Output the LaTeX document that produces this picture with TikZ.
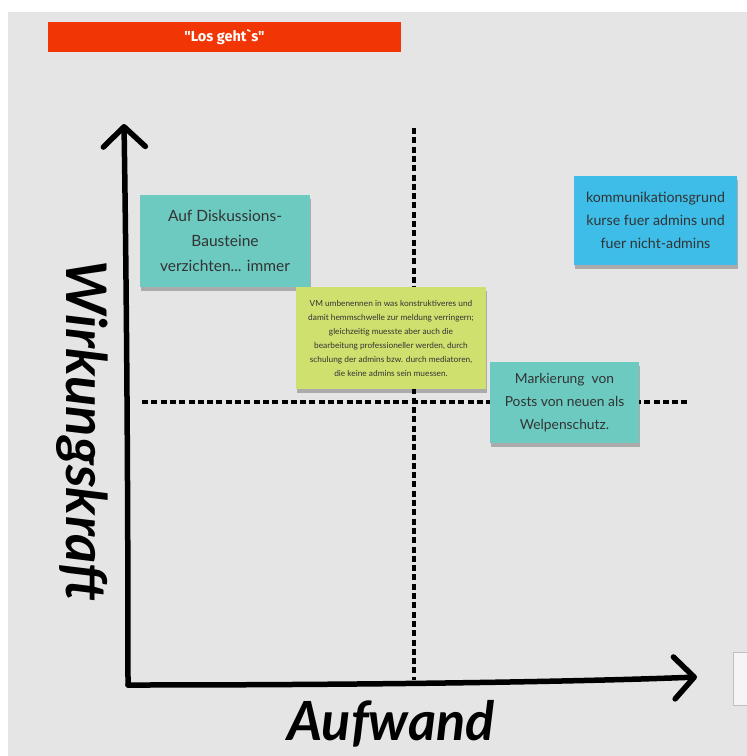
\documentclass[tikz,border=0pt]{standalone}
\usepackage{fontspec}
\setmainfont{Lato}
\newfontfamily\barfont{Fira Sans}[Ligatures=TeXOff]
\usetikzlibrary{arrows.meta,shadows}

\definecolor{board}{HTML}{E5E5E5}
\definecolor{barred}{HTML}{F23505}
\definecolor{noteteal}{HTML}{6CCAC1}
\definecolor{notelime}{HTML}{D0E06E}
\definecolor{noteblue}{HTML}{3DBDE8}

\tikzset{
  note/.style={rectangle, inner sep=0pt, align=center, text=black!80,
    drop shadow={shadow xshift=1pt, shadow yshift=-4pt, opacity=0.25, fill=black}},
  axis/.style={line width=5.5pt, line cap=round,
    -{Straight Barb[length=20pt, width=42pt, round]}},
  grid/.style={line width=3.5pt, dash pattern=on 6pt off 3.3pt}
}

\begin{document}
\begin{tikzpicture}[x=1pt, y=-1pt]
\useasboundingbox (0,0) rectangle (747,756);
\fill[board] (8,12) rectangle (747,756);

\node[fill=barred, minimum width=353pt, minimum height=30pt, text=white,
  font=\barfont\bfseries\fontsize{14.5}{16}\selectfont] (title) at (224.5,37) {"Los geht`s"};

\coordinate (o) at (128,685);
\coordinate (y) at (124,124);
\coordinate (x) at (697,677);
\coordinate (v1) at (414,128);
\coordinate (v2) at (414,680);
\coordinate (h1) at (142,402);
\coordinate (h2) at (690,402);

\path[draw,grid] (v1) -- (v2);
\path[draw,grid] (h1) -- (h2);
\path[draw,axis] (o) .. controls (128,450) and (126,250) .. (y);
\path[draw,axis] (o) .. controls (400,685) and (600,681) .. (x);

\node[note, fill=noteteal, minimum width=170pt, minimum height=92pt,
  font=\fontsize{15.5}{25}\selectfont] (1) at (225,241)
  {Auf Diskussions-\\Bausteine\\verzichten... immer};
\node[note, fill=notelime, minimum width=190pt, minimum height=102pt,
  font=\fontsize{8.3}{14}\selectfont] (2) at (391,338)
  {VM umbenennen in was konstruktiveres und\\damit hemmschwelle zur meldung verringern;\\gleichzeitig muesste aber auch die\\bearbeitung professioneller werden, durch\\schulung der admins bzw. durch mediatoren,\\die keine admins sein muessen.};
\node[note, fill=noteteal, minimum width=149pt, minimum height=81pt,
  font=\fontsize{13.8}{23}\selectfont] (3) at (564.5,402.5)
  {Markierung~~von\\Posts von neuen als\\Welpenschutz.};
\node[note, fill=noteblue, minimum width=163pt, minimum height=89pt,
  font=\fontsize{14.2}{23}\selectfont] (4) at (655.5,220.5)
  {kommunikationsgrund\\kurse fuer admins und\\fuer nicht-admins};

\node[font=\bfseries\itshape\fontsize{54}{54}\selectfont] (xlabel) at (391,724) {Aufwand};
\node[font=\bfseries\itshape\fontsize{56}{56}\selectfont, rotate=-90] (ylabel) at (82,431) {Wirkungskraft};

\draw[black!25, fill=white!60!board] (733,652) rectangle (750,705);
\end{tikzpicture}
\end{document}
